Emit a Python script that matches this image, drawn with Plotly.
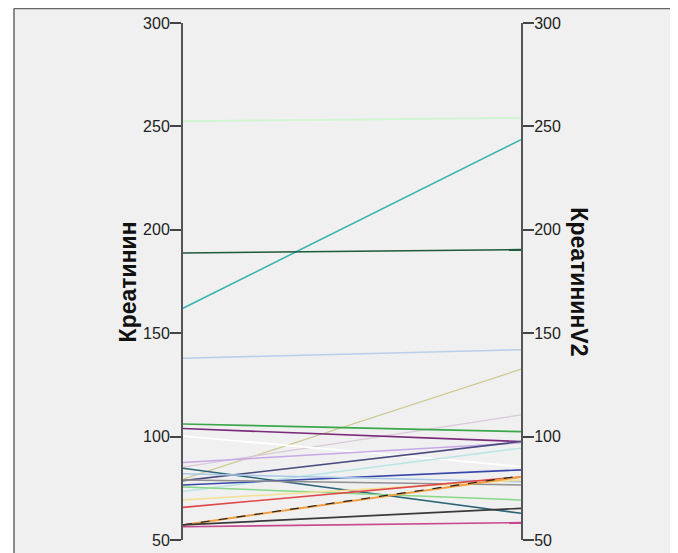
import plotly.graph_objects as go

# ---- data ----
left_axis_title = "Креатинин"
right_axis_title = "КреатининV2"
tick_values = [50, 100, 150, 200, 250, 300]

kreatinin = [252.5, 162.1, 188.8, 137.9, 79.4, 85.2, 106.1, 103.9, 100.3, 87.5,
             78.7, 73.4, 84.7, 76.6, 82.0, 79.0, 75.6, 69.4, 65.8, 57.3, 57.3, 57.3, 56.4]
kreatinin_v2 = [254.1, 243.6, 190.4, 142.0, 132.6, 110.5, 102.4, 97.6, 85.5, 97.0,
                97.6, 94.4, 62.9, 83.9, 78.2, 76.6, 69.4, 79.0, 80.5, 80.5, 81.0, 65.3, 58.4]
line_colors = ["#d2f5d2", "#3cb4b0", "#1e5a3c", "#b8d0ec", "#cdc88e", "#d8c8d8",
               "#3aa84a", "#7a2a7a", "#ffffff", "#c8a8e8", "#4a4a80", "#b8e4e4",
               "#2a6478", "#3848a8", "#a8c8e8", "#909090", "#88d888", "#f4e090",
               "#e04848", "#f0a040", "#222222", "#3a3a3a", "#c84890"]
line_dash = ["solid"] * 20 + ["dash", "solid", "solid"]
line_width = [2, 1.6, 1.6, 1.6, 1.2, 1.2, 1.6, 1.6, 1.6, 1.5, 1.6, 1.5, 1.6,
              1.6, 1.5, 1.5, 1.5, 1.5, 1.6, 2, 1.2, 1.6, 1.6]

fig = go.Figure()
for a, b, c, d, w in zip(kreatinin, kreatinin_v2, line_colors, line_dash, line_width):
    fig.add_trace(go.Scatter(x=[0, 1], y=[a, b], mode="lines",
                             line=dict(color=c, width=w, dash=d),
                             showlegend=False, hoverinfo="skip"))
# invisible trace to activate the right axis
fig.add_trace(go.Scatter(x=[0, 1], y=[50, 300], yaxis="y2", mode="lines",
                         line=dict(color="rgba(0,0,0,0)"), showlegend=False,
                         hoverinfo="skip"))

axis_common = dict(range=[50, 300], tickvals=tick_values, showgrid=False,
                   zeroline=False, showline=True, linecolor="#555555", linewidth=2,
                   ticks="outside", ticklen=11, tickwidth=1.5, tickcolor="#444444",
                   ticklabelstandoff=-3, automargin=False,
                   tickfont=dict(family="Liberation Sans, Arial, sans-serif",
                                 size=16, color="#222222"))

title_font = dict(family="Liberation Sans, Arial, sans-serif", size=23, color="#111111")

fig.update_layout(
    template="none",
    width=678, height=553,
    margin=dict(l=175, r=165, t=15, b=21, autoexpand=False),
    paper_bgcolor="#f0f0f0",
    plot_bgcolor="rgba(0,0,0,0)",
    xaxis=dict(range=[0, 1], visible=False, automargin=False),
    yaxis=dict(**axis_common, side="left"),
    yaxis2=dict(**axis_common, side="right", overlaying="y"),
    shapes=[
        # white strip outside the chart frame (left)
        dict(type="rect", xref="paper", yref="paper",
             x0=-0.6, x1=-0.5, y0=-0.1, y1=1.1,
             fillcolor="white", line=dict(width=0), layer="below"),
        dict(type="line", xref="paper", yref="paper",
             x0=-0.5, x1=1.6, y0=1.028, y1=1.028,
             line=dict(color="#666666", width=1.5), layer="below"),
        dict(type="line", xref="paper", yref="paper",
             x0=-0.5, x1=-0.5, y0=-0.1, y1=1.028,
             line=dict(color="#666666", width=1.5), layer="below"),
    ],
    annotations=[
        dict(text=f"<b>{left_axis_title}</b>", xref="paper", yref="paper",
             x=-0.163, y=0.5, xanchor="center", yanchor="middle", textangle=-90,
             showarrow=False, font=title_font),
        dict(text=f"<b>{right_axis_title}</b>", xref="paper", yref="paper",
             x=1.172, y=0.5, xanchor="center", yanchor="middle", textangle=90,
             showarrow=False, font=title_font),
    ],
)

fig.write_html("out.html")
